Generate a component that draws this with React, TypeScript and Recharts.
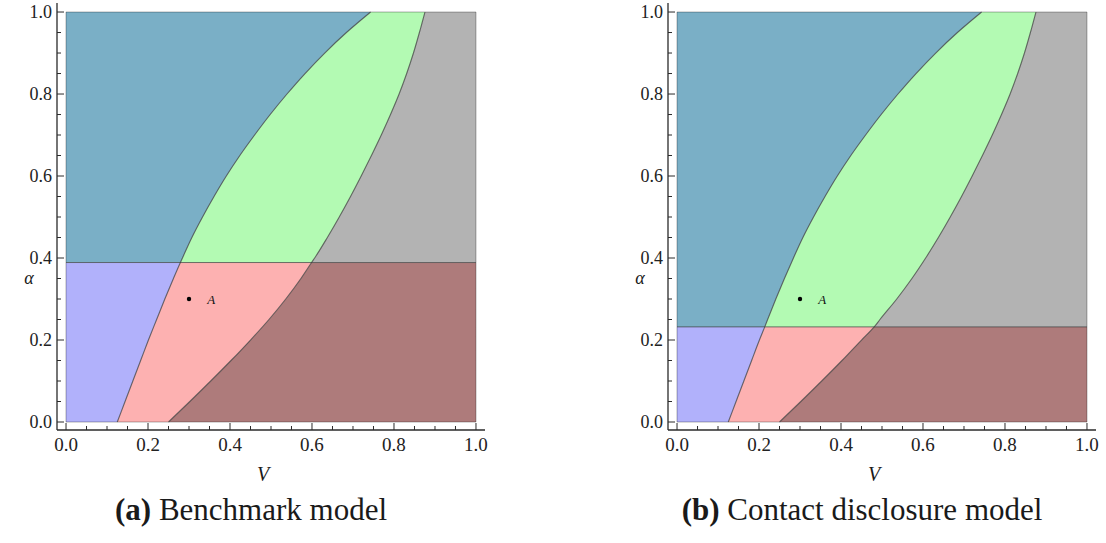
import React from "react";
import {
  ComposedChart,
  Area,
  Line,
  XAxis,
  YAxis,
  ReferenceLine,
  ReferenceDot,
  ReferenceArea,
} from "recharts";

// alpha samples and the V position of the two boundary curves at each of them
const alphaGrid = [
  0, 0.05, 0.1, 0.15, 0.2, 0.25, 0.3, 0.35, 0.4, 0.45, 0.5,
  0.55, 0.6, 0.65, 0.7, 0.75, 0.8, 0.85, 0.9, 0.95, 1,
];
const leftCurveV = [
  0.125, 0.144, 0.163, 0.182, 0.201, 0.221, 0.241, 0.262, 0.284, 0.307, 0.333,
  0.361, 0.391, 0.424, 0.46, 0.498, 0.539, 0.583, 0.631, 0.684, 0.743,
];
const rightCurveV = [
  0.25, 0.302, 0.353, 0.4025, 0.45, 0.495, 0.536, 0.573, 0.6065, 0.6375, 0.6665,
  0.694, 0.72, 0.745, 0.769, 0.7915, 0.8125, 0.831, 0.8475, 0.862, 0.8755,
];

// horizontal threshold of each model, with where the curves cross it
const benchmarkCut = { alpha: 0.389, left: 0.279, right: 0.599 };
const disclosureCut = { alpha: 0.232, left: 0.214, right: 0.481 };

const pointA = { v: 0.3, alpha: 0.3, label: "A" };

const tickValues = [
  0, 0.05, 0.1, 0.15, 0.2, 0.25, 0.3, 0.35, 0.4, 0.45, 0.5,
  0.55, 0.6, 0.65, 0.7, 0.75, 0.8, 0.85, 0.9, 0.95, 1,
];
const majorTicks = [0, 0.2, 0.4, 0.6, 0.8, 1];
const majorLabels = ["0.0", "0.2", "0.4", "0.6", "0.8", "1.0"];

const COLORS = {
  blue: "#7aafc6",
  green: "#b3fab3",
  gray: "#b3b3b3",
  purple: "#b1b1fb",
  pink: "#fdb1b1",
  brown: "#ae7b7b",
  edge: "#3c3c3c",
  axis: "#2a2a2a",
};

const FONT = '"Liberation Serif", "Times New Roman", Times, serif';
const X_DOMAIN = [-0.022, 1.022];
const Y_DOMAIN = [-0.0195, 1.022];

type Cut = { alpha: number; left: number; right: number };

function buildRows(cut: Cut) {
  const pts = alphaGrid.map((a, i) => ({ alpha: a, vl: leftCurveV[i], vr: rightCurveV[i] }));
  pts.push({ alpha: cut.alpha, vl: cut.left, vr: cut.right });
  pts.sort((p, q) => p.alpha - q.alpha);
  return pts.map((p) => {
    const up = p.alpha >= cut.alpha;
    const down = p.alpha <= cut.alpha;
    return {
      alpha: p.alpha,
      vl: p.vl,
      vr: p.vr,
      blue: up ? [0, p.vl] : null,
      green: up ? [p.vl, p.vr] : null,
      gray: up ? [p.vr, 1] : null,
      purple: down ? [0, p.vl] : null,
      pink: down ? [p.vl, p.vr] : null,
      brown: down ? [p.vr, 1] : null,
    };
  });
}

const findMajor = (v: number) => majorTicks.findIndex((m) => Math.abs(m - v) < 1e-6);

function makeTick(side: "bottom" | "left" | "top" | "right") {
  return (props: any) => {
    const { x, y, payload } = props;
    const idx = findMajor(payload.value);
    const len = idx >= 0 ? 7 : 4;
    let line;
    if (side === "bottom") line = <line x1={x} y1={y} x2={x} y2={y - len} />;
    else if (side === "top") line = <line x1={x} y1={y} x2={x} y2={y + len} />;
    else if (side === "left") line = <line x1={x} y1={y} x2={x + len} y2={y} />;
    else line = <line x1={x} y1={y} x2={x - len} y2={y} />;
    let label = null;
    if (idx >= 0 && side === "bottom") {
      label = (
        <text x={x} y={y + 21} textAnchor="middle" fontSize={19} style={{ fontFamily: FONT }} fill="#222">
          {majorLabels[idx]}
        </text>
      );
    } else if (idx >= 0 && side === "left") {
      label = (
        <text x={x - 5} y={y + 6} textAnchor="end" fontSize={18} style={{ fontFamily: FONT }} fill="#222">
          {majorLabels[idx]}
        </text>
      );
    }
    return (
      <g>
        <g stroke={COLORS.axis} strokeWidth={1}>{line}</g>
        {label}
      </g>
    );
  };
}

function RegionPanel({ cut, width, right }: { cut: Cut; width: number; right: number }) {
  const rows = buildRows(cut);
  const axisLine = { stroke: COLORS.axis, strokeWidth: 1.3 };
  return (
    <ComposedChart
      width={width}
      height={470}
      data={rows}
      layout="vertical"
      margin={{ top: 3, right, bottom: 0, left: 0 }}
    >
      <XAxis
        type="number"
        domain={X_DOMAIN}
        allowDataOverflow
        ticks={tickValues}
        interval={0}
        tickSize={0}
        tickMargin={0}
        tickLine={false}
        axisLine={axisLine}
        tick={makeTick("bottom")}
        height={40}
      />
      <XAxis
        xAxisId="top"
        orientation="top"
        type="number"
        domain={X_DOMAIN}
        allowDataOverflow
        ticks={tickValues}
        interval={0}
        tickSize={0}
        tickMargin={0}
        tickLine={false}
        axisLine={axisLine}
        tick={makeTick("top")}
        height={0}
      />
      <YAxis
        type="number"
        dataKey="alpha"
        domain={Y_DOMAIN}
        allowDataOverflow
        reversed
        ticks={tickValues}
        interval={0}
        tickSize={0}
        tickMargin={0}
        tickLine={false}
        axisLine={axisLine}
        tick={makeTick("left")}
        width={57}
      />
      <YAxis
        yAxisId="right"
        orientation="right"
        type="number"
        dataKey="alpha"
        domain={Y_DOMAIN}
        allowDataOverflow
        reversed
        ticks={tickValues}
        interval={0}
        tickSize={0}
        tickMargin={0}
        tickLine={false}
        axisLine={axisLine}
        tick={makeTick("right")}
        width={0}
      />
      <Area dataKey="brown" type="monotone" fill={COLORS.brown} fillOpacity={1} stroke="none" isAnimationActive={false} />
      <Area dataKey="pink" type="monotone" fill={COLORS.pink} fillOpacity={1} stroke="none" isAnimationActive={false} />
      <Area dataKey="purple" type="monotone" fill={COLORS.purple} fillOpacity={1} stroke="none" isAnimationActive={false} />
      <Area dataKey="gray" type="monotone" fill={COLORS.gray} fillOpacity={1} stroke="none" isAnimationActive={false} />
      <Area dataKey="green" type="monotone" fill={COLORS.green} fillOpacity={1} stroke="none" isAnimationActive={false} />
      <Area dataKey="blue" type="monotone" fill={COLORS.blue} fillOpacity={1} stroke="none" isAnimationActive={false} />
      <ReferenceArea x1={0} x2={1} y1={0} y2={1} fill="none" stroke="rgba(0,0,0,0.3)" strokeWidth={1} />
      <ReferenceLine
        segment={[{ x: 0, y: cut.alpha }, { x: 1, y: cut.alpha }]}
        stroke={COLORS.edge}
        strokeOpacity={0.7}
        strokeWidth={1}
      />
      <Line dataKey="vl" type="monotone" stroke={COLORS.edge} strokeOpacity={0.75} strokeWidth={1.1} dot={false} isAnimationActive={false} />
      <Line dataKey="vr" type="monotone" stroke={COLORS.edge} strokeOpacity={0.75} strokeWidth={1.1} dot={false} isAnimationActive={false} />
      <ReferenceDot
        x={pointA.v}
        y={pointA.alpha}
        r={2.2}
        fill="#000"
        stroke="none"
        label={{
          value: pointA.label,
          position: "right",
          offset: 16,
          fontSize: 13,
          fontStyle: "italic",
          style: { fontFamily: FONT },
          fill: "#111",
        }}
      />
    </ComposedChart>
  );
}

export default function App() {
  const textStyle = { style: { fontFamily: FONT }, fill: "#1a1a1a" } as const;
  return (
    <div
      style={{
        position: "absolute",
        left: 0,
        top: 0,
        width: 1106,
        height: 543,
        background: "#fff",
        overflow: "hidden",
        fontFamily: FONT,
      }}
    >
      <div style={{ position: "absolute", left: 0, top: 0 }}>
        <RegionPanel cut={benchmarkCut} width={500} right={15} />
      </div>
      <div style={{ position: "absolute", left: 611, top: 0 }}>
        <RegionPanel cut={disclosureCut} width={495} right={10} />
      </div>
      <svg width={1106} height={543} style={{ position: "absolute", left: 0, top: 0, pointerEvents: "none" }}>
        <text x={29} y={284} textAnchor="middle" fontSize={18} fontStyle="italic" {...textStyle}>α</text>
        <text x={640} y={284} textAnchor="middle" fontSize={18} fontStyle="italic" {...textStyle}>α</text>
        <text x={263} y={481} textAnchor="middle" fontSize={20} fontStyle="italic" {...textStyle}>V</text>
        <text x={874} y={481} textAnchor="middle" fontSize={20} fontStyle="italic" {...textStyle}>V</text>
        <text x={251} y={520} textAnchor="middle" fontSize={31} {...textStyle}>
          <tspan fontWeight="bold">(a)</tspan> Benchmark model
        </text>
        <text x={862} y={520} textAnchor="middle" fontSize={31} {...textStyle}>
          <tspan fontWeight="bold">(b)</tspan> Contact disclosure model
        </text>
      </svg>
    </div>
  );
}
